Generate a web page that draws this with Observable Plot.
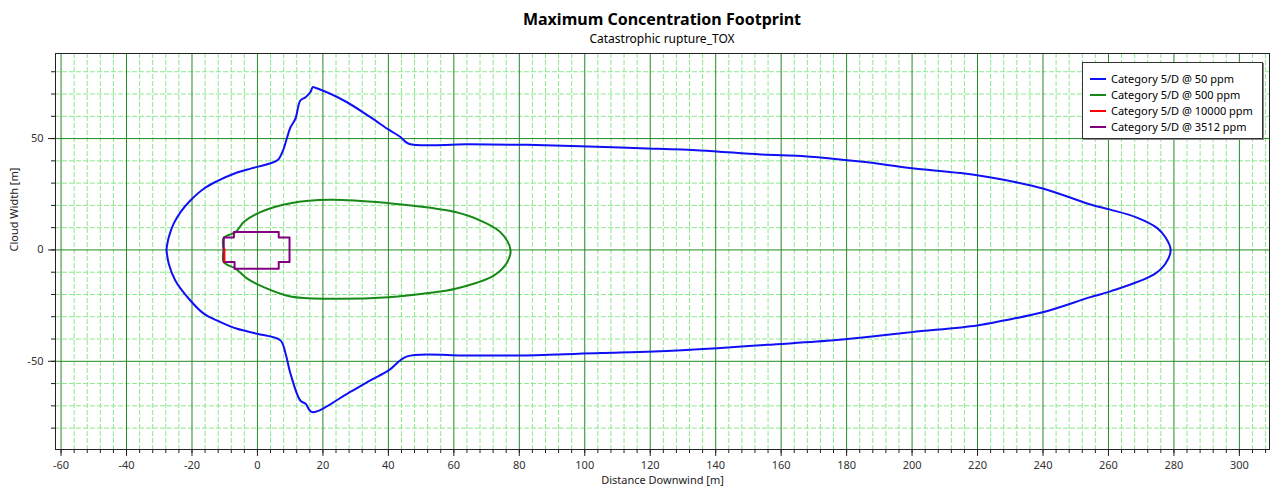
<!DOCTYPE html>
<html><head><meta charset="utf-8">
<script src="https://cdn.jsdelivr.net/npm/d3@7"></script>
<script src="https://cdn.jsdelivr.net/npm/@observablehq/plot@0.6"></script>
<style>
body{margin:0;background:#fff;font-family:"Segoe UI","Noto Sans","Open Sans",sans-serif;}
#wrap{position:relative;width:1274px;height:492px;overflow:hidden;background:#fff;}
#title{position:absolute;left:55px;width:1214px;top:8px;text-align:center;font-weight:bold;font-size:16px;line-height:22px;color:#000;}
#subtitle{position:absolute;left:55px;width:1214px;top:31px;text-align:center;font-size:12px;line-height:16px;color:#000;}
#plot{position:absolute;left:0;top:48px;}
#legend{position:absolute;left:1082px;top:62px;width:179px;height:75px;border:1px solid #333;background:#fff;box-shadow:1px 1px 0 #888;font-size:11px;}
.row{position:absolute;left:0;height:16px;line-height:16px;white-space:nowrap;}
.sw{position:absolute;left:7px;top:7px;width:16px;height:2px;}
.lt{position:absolute;left:28px;top:0;color:#000;}
</style>
</head><body>
<div id="wrap">
  <div id="title"></div>
  <div id="subtitle"></div>
  <div id="plot"></div>
  <div id="legend"></div>
</div>
<script>
const titleText = "Maximum Concentration Footprint";
const subtitleText = "Catastrophic rupture_TOX";
const xLabel = "Distance Downwind [m]";
const yLabel = "Cloud Width [m]";

const seriesNames = ["Category 5/D @ 50 ppm", "Category 5/D @ 500 ppm", "Category 5/D @ 10000 ppm", "Category 5/D @ 3512 ppm"];
const seriesColors = ["#1010f5", "#188818", "#ff0000", "#800080"];

const xMajorTicks = [-60, -40, -20, 0, 20, 40, 60, 80, 100, 120, 140, 160, 180, 200, 220, 240, 260, 280, 300];
const yMajorTicks = [-50, 0, 50];
const xMinorTicks = d3.range(-60, 309, 4);
const yMinorTicks = d3.range(-80, 81, 10);

// Category 5/D @ 50 ppm  [downwind, width]
const ppm50 = [
[-27.8,0.2],[-27.1,5.7],[-25.6,11.8],[-23.5,17.0],[-20.5,22.2],[-16.4,27.5],[-12.3,30.9],[-7.2,34.2],[-2.1,36.5],[3.5,38.7],[6.3,40.5],
[8.0,45.4],[9.1,50.7],[10.1,55.1],[11.6,58.9],[13.1,67.1],[14.7,68.6],[16.2,70.9],[16.9,73.1],[17.7,72.8],[26.4,67.1],[34.5,59.6],
[40.1,54.0],[43.7,50.7],[46.2,47.7],[64.1,47.4],[82.4,47.2],[98.7,46.6],[117.0,45.7],[135.3,44.7],[153.7,42.9],[167.9,42.0],
[184.2,39.7],[200.0,36.7],[214.8,34.5],[228.0,31.5],[240.2,27.5],[254.5,20.4],[260.6,18.1],[268.7,14.5],[274.9,9.8],[277.4,5.7],[279.0,0.1],
[277.4,-6.2],[273.8,-11.1],[260.6,-18.6],[254.5,-21.2],[240.2,-27.9],[228.0,-31.7],[219.9,-33.9],[200.0,-36.9],[184.2,-39.4],[176.1,-40.6],
[155.7,-42.6],[140.5,-44.1],[121.1,-45.6],[104.8,-46.3],[80.4,-47.4],[62.0,-47.4],[45.7,-47.8],[40.1,-54.1],[34.5,-58.6],
[27.4,-64.6],[16.7,-72.8],[14.7,-69.1],[13.1,-67.6],[10.1,-55.6],[8.6,-46.6],[7.0,-40.6],[-0.1,-37.6],[-6.2,-35.4],[-11.3,-32.4],
[-16.4,-28.6],[-20.5,-22.7],[-25.1,-13.7],[-27.1,-6.2],[-27.8,0.2]
];

// Category 5/D @ 500 ppm
const ppm500 = [
[-10.3,0],[-10.3,5.4],[-6.7,8.0],[-4.2,12.5],[0.9,17.0],[10.1,21.0],[22.3,22.5],[40.1,21.0],[52.9,18.9],[60.5,17.0],[68.1,13.2],[74.2,8.0],[77.3,0.1],
[76.3,-5.5],[72.2,-11.5],[60.5,-17.4],[52.9,-19.2],[40.1,-21.2],[22.3,-21.9],[10.1,-20.9],[1.9,-16.7],[-3.1,-12.9],[-6.7,-8.4],[-10.3,-5.4],[-10.3,0]
];

// Category 5/D @ 10000 ppm
const ppm10000 = [
[-10.1,0.3],[-10.1,-5.2]
];

// Category 5/D @ 3512 ppm
const ppm3512 = [
[-10.3,5.6],[-7.2,5.6],[-7.2,8.1],[6.5,8.1],[6.5,5.6],[9.8,5.6],[9.8,-5.4],[6.5,-5.4],[6.5,-8.4],[-7.0,-8.4],[-7.0,-5.4],[-10.3,-5.4],[-10.3,5.6]
];

document.getElementById("title").textContent = titleText;
document.getElementById("subtitle").textContent = subtitleText;

const fmt = d => String(d);
const lineOpts = (i, curve) => ({x: d => d[0], y: d => d[1], stroke: seriesColors[i], strokeWidth: 2, strokeLinejoin: "round", curve});

const chart = Plot.plot({
  width: 1274,
  height: 444,
  marginTop: 5,
  marginBottom: 43,
  marginLeft: 55,
  marginRight: 5,
  style: {fontFamily: '"Segoe UI","Noto Sans","Open Sans",sans-serif', fontSize: "11px", background: "#fff", overflow: "visible"},
  x: {domain: [-61.7, 309.2]},
  y: {domain: [-89.6, 88.2]},
  marks: [
    Plot.ruleX(xMinorTicks.filter(d => !xMajorTicks.includes(d)), {stroke: "#8de88d", strokeDasharray: "5,2", strokeWidth: 1}),
    Plot.ruleY(yMinorTicks.filter(d => !yMajorTicks.includes(d)), {stroke: "#8de88d", strokeDasharray: "5,2", strokeWidth: 1}),
    Plot.ruleX(xMajorTicks, {stroke: "#228b22", strokeWidth: 1}),
    Plot.ruleY(yMajorTicks, {stroke: "#228b22", strokeWidth: 1}),
    Plot.line(ppm50, lineOpts(0, "catmull-rom")),
    Plot.line(ppm500, lineOpts(1, "catmull-rom")),
    Plot.line(ppm3512, lineOpts(3, "linear")),
    Plot.line(ppm10000, lineOpts(2, "linear")),
    Plot.frame({stroke: "#222", strokeWidth: 1}),
    Plot.axisX(xMinorTicks, {tickSize: 4, tickFormat: () => "", label: null, stroke: "#222"}),
    Plot.axisX(xMajorTicks, {tickSize: 7, tickPadding: 5, tickFormat: fmt, label: null, fill: "#333", stroke: "#222"}),
    Plot.axisY(yMinorTicks, {tickSize: 4, tickFormat: () => "", label: null, stroke: "#222"}),
    Plot.axisY(yMajorTicks, {tickSize: 7, tickPadding: 5, tickFormat: fmt, label: null, fill: "#333", stroke: "#222"}),
    Plot.text([xLabel], {frameAnchor: "bottom", dy: 34, fill: "#222", fontSize: 11}),
    Plot.text([yLabel], {frameAnchor: "left", dx: -41, rotate: -90, fill: "#222", fontSize: 11})
  ]
});
document.getElementById("plot").appendChild(chart);

const legend = document.getElementById("legend");
seriesNames.forEach((name, i) => {
  const row = document.createElement("div");
  row.className = "row";
  row.style.top = (8 + i * 16) + "px";
  row.style.width = "100%";
  const sw = document.createElement("div");
  sw.className = "sw";
  sw.style.background = seriesColors[i];
  const lt = document.createElement("div");
  lt.className = "lt";
  lt.textContent = name;
  row.appendChild(sw);
  row.appendChild(lt);
  legend.appendChild(row);
});
</script>
</body></html>
